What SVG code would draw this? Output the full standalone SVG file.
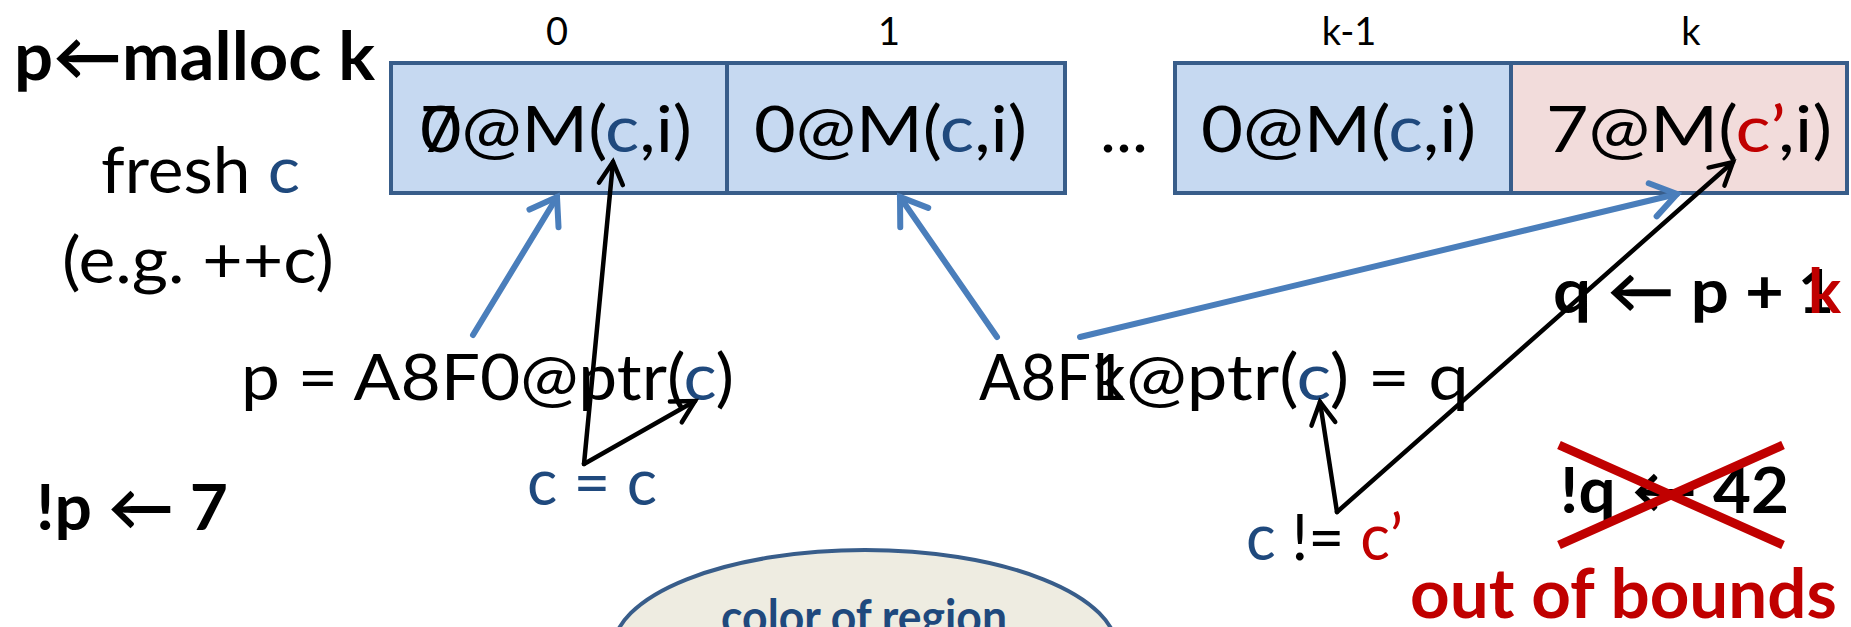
<svg xmlns="http://www.w3.org/2000/svg" width="1851" height="627" viewBox="0 0 1851 627">
<style>
.t{font-family:Lato,"Open Sans","DejaVu Sans",sans-serif;fill:#000}
.b{font-weight:bold}
.m{font-size:64px}
.lbl{font-size:38px;text-anchor:middle}
.blu{fill:#1f497d}
.red{fill:#c00000}
.cellB{fill:#c6d9f1;stroke:#385d8a;stroke-width:4}
.cellP{fill:#f2dcdb;stroke:#385d8a;stroke-width:4}
.ca{fill:none;stroke:#4a7ebb;stroke-width:6;stroke-linecap:round}
.ck{fill:none;stroke:#000;stroke-width:4.5;stroke-linecap:round}
</style>
<defs>
<marker id="hb" markerUnits="userSpaceOnUse" markerWidth="40" markerHeight="40" refX="28" refY="20" orient="auto" overflow="visible">
<path d="M3,3 L28,20 L3,37" fill="none" stroke="#4a7ebb" stroke-width="6" stroke-linecap="round" stroke-linejoin="miter"/>
</marker>
<marker id="hk" markerUnits="userSpaceOnUse" markerWidth="40" markerHeight="40" refX="26" refY="20" orient="auto" overflow="visible">
<path d="M4,8 L26,20 L4,32" fill="none" stroke="#000" stroke-width="4.5" stroke-linecap="round"/>
</marker>
</defs>
<rect width="1851" height="627" fill="#fff"/>

<g id="title">
<text class="t b" x="14" y="80" font-size="66" textLength="361" lengthAdjust="spacingAndGlyphs">p←malloc k</text>
</g>
<g id="fresh">
<text class="t m" x="101" y="193" textLength="199" lengthAdjust="spacingAndGlyphs">fresh <tspan class="blu">c</tspan></text>
<text class="t m" x="62" y="283" textLength="272" lengthAdjust="spacingAndGlyphs">(e.g. ++c)</text>
</g>

<g id="indices">
<text class="t lbl" x="557" y="45">0</text>
<text class="t lbl" x="889" y="45">1</text>
<text class="t lbl" x="1349" y="45">k-1</text>
<text class="t lbl" x="1691" y="45">k</text>
</g>

<g id="cell0">
<rect class="cellB" x="391" y="63" width="336" height="130"/>
<text class="t m" x="420" y="152" textLength="272" lengthAdjust="spacingAndGlyphs">0@M(<tspan class="blu">c</tspan>,i)</text>
<text class="t m" x="420" y="152">7</text>
</g>
<g id="cell1">
<rect class="cellB" x="727" y="63" width="338" height="130"/>
<text class="t m" x="754" y="152" textLength="273" lengthAdjust="spacingAndGlyphs">0@M(<tspan class="blu">c</tspan>,i)</text>
</g>
<g id="dots">
<text class="t m" x="1100" y="152" textLength="48" lengthAdjust="spacingAndGlyphs">...</text>
</g>
<g id="cellk1">
<rect class="cellB" x="1175" y="63" width="336" height="130"/>
<text class="t m" x="1201" y="152" textLength="275" lengthAdjust="spacingAndGlyphs">0@M(<tspan class="blu">c</tspan>,i)</text>
</g>
<g id="cellk">
<rect class="cellP" x="1511" y="63" width="336" height="130"/>
<text class="t m" x="1546" y="152" textLength="286" lengthAdjust="spacingAndGlyphs">7@M(<tspan class="red">c’</tspan>,i)</text>
</g>

<g id="pptr">
<text class="t m" x="241" y="400" textLength="493" lengthAdjust="spacingAndGlyphs">p = A8F0@ptr(<tspan class="blu">c</tspan>)</text>
</g>
<g id="qptr">
<text class="t m" x="979" y="400" textLength="112" lengthAdjust="spacingAndGlyphs">A8F</text>
<text class="t m" x="1090" y="400">1</text>
<text class="t m" x="1093" y="400">k</text>
<text class="t m" x="1126" y="400" textLength="343" lengthAdjust="spacingAndGlyphs">@ptr(<tspan class="blu">c</tspan>) = q</text>
</g>
<g id="qassign">
<text class="t b" x="1553" y="313" font-size="62" textLength="231" lengthAdjust="spacingAndGlyphs">q ← p +</text>
<text class="t b" x="1798" y="313" font-size="62">1</text>
<text class="t b red" x="1808" y="313" font-size="62">k</text>
</g>
<g id="store7">
<text class="t b" x="36" y="530" font-size="64" textLength="192" lengthAdjust="spacingAndGlyphs">!p ← 7</text>
</g>
<g id="ceq">
<text class="t m blu" x="527" y="505" textLength="130" lengthAdjust="spacingAndGlyphs">c = c</text>
</g>
<g id="cneq">
<text class="t m" x="1246" y="560" textLength="157" lengthAdjust="spacingAndGlyphs"><tspan class="blu">c</tspan> != <tspan class="red">c’</tspan></text>
</g>
<g id="store42">
<text class="t b" x="1560" y="513" font-size="64" textLength="229" lengthAdjust="spacingAndGlyphs">!q ← 42</text>
<path d="M1559,445 L1783,545 M1559,545 L1783,445" stroke="#c00000" stroke-width="9" fill="none"/>
</g>
<g id="oob">
<text class="t b red" x="1410" y="618" font-size="68" textLength="427" lengthAdjust="spacingAndGlyphs">out of bounds</text>
</g>
<g id="region">
<ellipse cx="865" cy="650" rx="252" ry="100" fill="#eeece1" stroke="#385d8a" stroke-width="4"/>
<text class="t b blu" x="864" y="634" font-size="47" text-anchor="middle" textLength="286" lengthAdjust="spacingAndGlyphs">color of region</text>
</g>
<g id="free">
<text class="t b" x="40" y="684" font-size="66">f</text>
</g>

<g id="connectors">
<line class="ca" x1="473" y1="335" x2="557" y2="197" marker-end="url(#hb)"/>
<line class="ca" x1="997" y1="337" x2="900" y2="197" marker-end="url(#hb)"/>
<line class="ca" x1="1080" y1="337" x2="1677" y2="194" marker-end="url(#hb)"/>
<line class="ck" x1="584" y1="464" x2="613" y2="162" marker-end="url(#hk)"/>
<line class="ck" x1="584" y1="464" x2="695" y2="401" marker-end="url(#hk)"/>
<line class="ck" x1="1337" y1="512" x2="1320" y2="402" marker-end="url(#hk)"/>
<line class="ck" x1="1337" y1="512" x2="1733" y2="162" marker-end="url(#hk)"/>
</g>
</svg>
